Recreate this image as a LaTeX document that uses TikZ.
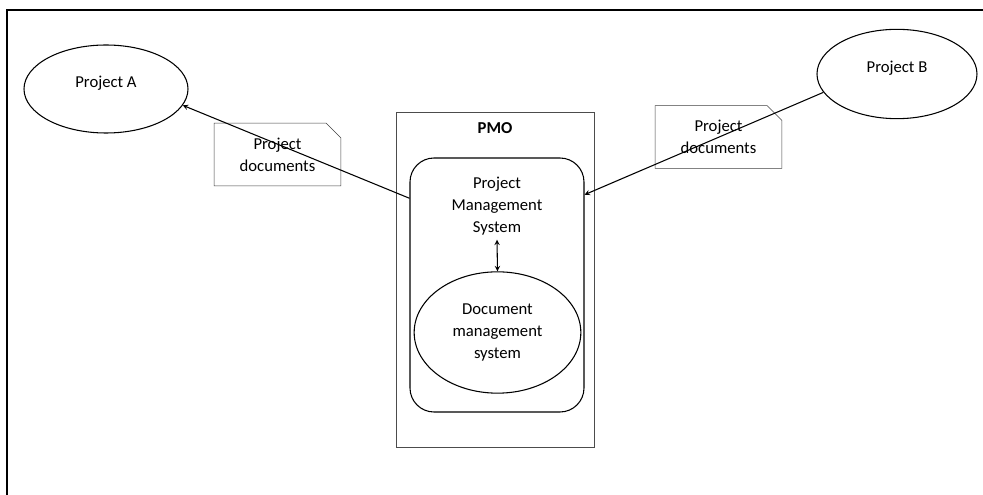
\documentclass[tikz,border=0pt]{standalone}
\usepackage{fontspec}
\setmainfont{Carlito}
\usepackage{tikz}
\usetikzlibrary{shapes.geometric, shapes.misc, arrows, calc, positioning}
\newcommand{\diagfont}{\fontsize{12.5pt}{16.5pt}\selectfont}
\tikzstyle{project} = [ellipse, thick, draw=black, minimum width=123pt, minimum height=66pt]
\tikzstyle{doc} = [chamfered rectangle, chamfered rectangle corners=north east, chamfered rectangle xsep=5.5pt, chamfered rectangle ysep=5.5pt, draw=black!75, minimum width=95pt, minimum height=47pt, align=center]
\tikzstyle{office} = [rectangle, draw=black!70, minimum width=148.5pt, minimum height=251pt]
\tikzstyle{system} = [rectangle, rounded corners=18pt, thick, draw=black, minimum width=130.5pt, minimum height=190.5pt]
\tikzstyle{store} = [ellipse, thick, draw=black, minimum width=125pt, minimum height=91pt, align=center]
\tikzstyle{arrow} = [thick,->,>=stealth]

\begin{document}
\begin{tikzpicture}[x=0.75pt, y=-0.75pt, font=\diagfont]
		\useasboundingbox (0,0) rectangle (983,495);
		\draw[line width=1.5pt] (7,495) -- (7,10) -- (983,10);
		
		\node (ProjectA) [project, label={[yshift=4.5pt]center:Project A}] at (106,89) {};
		\node (ProjectB) [project, minimum width=120pt, minimum height=67pt, label={[yshift=4.5pt]center:Project B}] at (897,74) {};
		\node (DocsA) [doc] at (277.5,154.5) {Project\\documents};
		\node (DocsB) [doc] at (718.5,137) {Project\\documents};
		\node (PMO) [office, label={[anchor=north, yshift=-4.5pt, font=\diagfont\bfseries]north:PMO}] at (495,279.5) {};
		\node (PMS) [system, label={[name=PMSText, anchor=north, yshift=-11pt, align=center]north:Project\\Management\\System}] at (497,285) {};
		\node (DocSystem) [store] at (497.5,332.5) {Document\\management\\system};
		
		\draw [arrow] ($(PMS.north west)!0.16!(PMS.south west)$) -- (ProjectA.-12);
		\draw [arrow] (ProjectB.194) -- ($(PMS.north east)!0.146!(PMS.south east)$);
		\draw [thick,<->,>=stealth] (PMSText.south) -- (DocSystem.north);
\end{tikzpicture}
\end{document}
